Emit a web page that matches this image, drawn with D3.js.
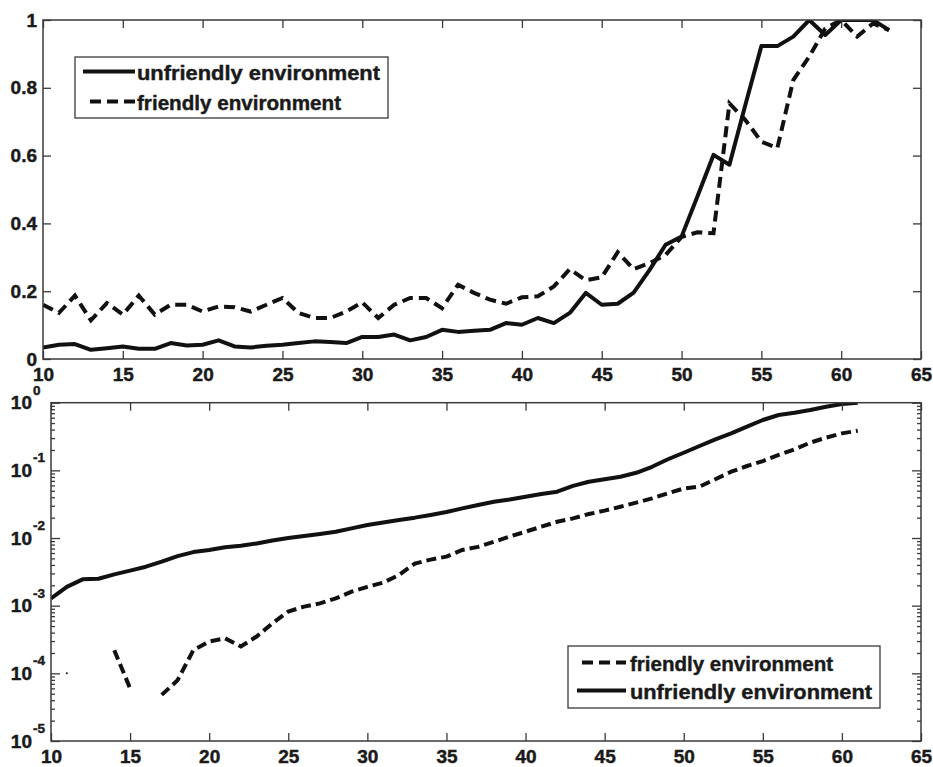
<!DOCTYPE html>
<html><head><meta charset="utf-8">
<script src="https://cdn.jsdelivr.net/npm/d3@7"></script>
<style>
html,body{margin:0;padding:0;background:#fff;}
svg{display:block;}
text{font-family:"Liberation Sans",Arial,Helvetica,sans-serif;font-weight:bold;fill:#1a1a1a;}
</style></head><body>
<svg id="chart" width="933" height="767"></svg>
<script>
// ---------- data ----------
const xTickValues = [10,15,20,25,30,35,40,45,50,55,60,65];
const topYTicks = [0,0.2,0.4,0.6,0.8,1];
const topYTickLabels = ["0","0.2","0.4","0.6","0.8","1"];
const logYTicks = [1,1e-1,1e-2,1e-3,1e-4,1e-5];
const logYExponents = ["0","-1","-2","-3","-4","-5"];
const seriesNames = ["unfriendly environment","friendly environment"];

const topX = [10,11,12,13,14,15,16,17,18,19,20,21,22,23,24,25,26,27,28,29,30,31,32,33,34,35,36,37,38,39,40,41,42,43,44,45,46,47,48,49,50,51,52,53,54,55,56,57,58,59,60,61,62,63];
const topUnfriendly = [0.034,0.042,0.044,0.027,0.032,0.037,0.030,0.030,0.047,0.040,
  0.042,0.055,0.037,0.034,0.039,0.042,0.047,0.052,0.050,0.047,
  0.065,0.065,0.072,0.055,0.065,0.086,0.080,0.083,0.086,0.106,
  0.101,0.121,0.106,0.136,0.195,0.160,0.163,0.196,0.263,0.337,
  0.361,0.480,0.602,0.573,0.750,0.923,0.923,0.951,1.000,0.956,
  1.000,1.000,1.000,0.970];
const topFriendly = [0.160,0.136,0.187,0.114,0.165,0.131,0.187,0.131,0.160,0.160,
  0.140,0.155,0.153,0.140,0.160,0.180,0.136,0.121,0.121,0.140,
  0.167,0.121,0.160,0.180,0.180,0.150,0.219,0.195,0.175,0.163,
  0.182,0.185,0.214,0.265,0.232,0.241,0.315,0.265,0.283,0.307,
  0.360,0.374,0.371,0.754,0.705,0.641,0.622,0.823,0.892,0.975,
  1.000,0.951,0.990,0.970];

const bottomX = [10,11,12,13,14,15,16,17,18,19,20,21,22,23,24,25,26,27,28,29,30,31,32,33,34,35,36,37,38,39,40,41,42,43,44,45,46,47,48,49,50,51,52,53,54,55,56,57,58,59,60,61];
const bottomUnfriendly = [1.28e-3,1.9e-3,2.45e-3,2.5e-3,2.9e-3,3.3e-3,3.77e-3,4.47e-3,5.4e-3,6.2e-3,
  6.65e-3,7.3e-3,7.7e-3,8.3e-3,9.2e-3,1.0e-2,1.07e-2,1.15e-2,1.24e-2,1.39e-2,
  1.56e-2,1.7e-2,1.85e-2,2.0e-2,2.19e-2,2.42e-2,2.74e-2,3.08e-2,3.44e-2,3.7e-2,
  4.08e-2,4.47e-2,4.84e-2,5.9e-2,6.8e-2,7.4e-2,8.05e-2,9.2e-2,0.113,0.146,
  0.182,0.229,0.287,0.352,0.442,0.555,0.658,0.711,0.78,0.873,
  0.955,1.0];
const bottomFriendly = [null,1e-4,null,null,2.2e-4,6.0e-5,null,4.8e-5,7.9e-5,2.2e-4,
  2.95e-4,3.3e-4,2.5e-4,3.5e-4,5.5e-4,8.2e-4,9.7e-4,1.08e-3,1.28e-3,1.61e-3,
  1.9e-3,2.19e-3,2.84e-3,4.2e-3,4.8e-3,5.3e-3,6.65e-3,7.4e-3,8.8e-3,1.05e-2,
  1.24e-2,1.47e-2,1.74e-2,1.95e-2,2.26e-2,2.54e-2,2.9e-2,3.33e-2,3.86e-2,4.57e-2,
  5.4e-2,5.74e-2,7.4e-2,9.55e-2,0.116,0.137,0.169,0.204,0.257,0.304,
  0.352,0.385];

// ---------- drawing ----------
const svg = d3.select("#chart");
svg.append("rect").attr("width",933).attr("height",767).attr("fill","#fff");
const axisColor = "#3a3a3a";
const lineColor = "#111";
const textColor = "#1a1a1a";
const tickFont = 19;

function heavy(sel){
  sel.attr("font-weight","bold").attr("fill",textColor)
    .attr("stroke",textColor).attr("stroke-width",0.45).attr("paint-order","stroke");
}
function styleAxis(g){
  g.select(".domain").remove();
  g.selectAll(".tick line").attr("stroke",axisColor).attr("stroke-width",1.3);
  g.selectAll("text").attr("font-size",tickFont)
    .attr("font-family",'"Liberation Sans",Arial,sans-serif').call(heavy);
}

// ===== Top panel =====
const T = {left:43, right:921, top:20, bottom:359};
const xTop = d3.scaleLinear().domain([10,65]).range([T.left,T.right]);
const yTop = d3.scaleLinear().domain([0,1]).range([T.bottom,T.top]);

svg.append("clipPath").attr("id","clipTop").append("rect")
  .attr("x",T.left).attr("y",T.top).attr("width",T.right-T.left).attr("height",T.bottom-T.top);

const topLine = d3.line().x((d,i)=>xTop(topX[i])).y(d=>yTop(d));
const gTop = svg.append("g").attr("clip-path","url(#clipTop)");
gTop.append("path").attr("d",topLine(topFriendly)).attr("fill","none")
  .attr("stroke",lineColor).attr("stroke-width",4).attr("stroke-dasharray","11,6");
gTop.append("path").attr("d",topLine(topUnfriendly)).attr("fill","none")
  .attr("stroke",lineColor).attr("stroke-width",4).attr("stroke-linejoin","round");

svg.append("g").attr("transform",`translate(0,${T.bottom})`)
  .call(d3.axisBottom(xTop).tickValues(xTickValues).tickSize(-8).tickSizeOuter(0).tickPadding(9)).call(styleAxis);
svg.append("g").attr("transform",`translate(0,${T.top})`)
  .call(d3.axisTop(xTop).tickValues(xTickValues).tickSize(-8).tickSizeOuter(0).tickFormat("")).call(styleAxis);
svg.append("g").attr("transform",`translate(${T.left},0)`)
  .call(d3.axisLeft(yTop).tickValues(topYTicks).tickFormat((d,i)=>topYTickLabels[i]).tickSize(-8).tickSizeOuter(0).tickPadding(6)).call(styleAxis);
svg.append("g").attr("transform",`translate(${T.right},0)`)
  .call(d3.axisRight(yTop).tickValues(topYTicks).tickSize(-8).tickSizeOuter(0).tickFormat("")).call(styleAxis);
svg.append("rect").attr("x",T.left).attr("y",T.top).attr("width",T.right-T.left).attr("height",T.bottom-T.top)
  .attr("fill","none").attr("stroke",axisColor).attr("stroke-width",1.5);

// top legend
const LT = {x:75, y:57, w:313, h:61};
const gLegT = svg.append("g");
gLegT.append("rect").attr("x",LT.x).attr("y",LT.y).attr("width",LT.w).attr("height",LT.h)
  .attr("fill","#fff").attr("stroke",axisColor).attr("stroke-width",1.3);
const legTopItems = [
  {name:seriesNames[0], dash:null, x1:83, x2:135, base:80},
  {name:seriesNames[1], dash:"11,6", x1:90, x2:135, base:110}
];
legTopItems.forEach(it=>{
  gLegT.append("line").attr("x1",it.x1).attr("x2",it.x2).attr("y1",it.base-8.5).attr("y2",it.base-8.5)
    .attr("stroke",lineColor).attr("stroke-width",4).attr("stroke-dasharray",it.dash);
  gLegT.append("text").attr("x",137).attr("y",it.base).attr("font-size",21)
    .attr("textLength",it.name===seriesNames[0]?243:204).attr("lengthAdjust","spacingAndGlyphs")
    .call(heavy).text(it.name);
});

// ===== Bottom panel =====
const B = {left:51, right:921, top:402.7, bottom:741};
const xBot = d3.scaleLinear().domain([10,65]).range([B.left,B.right]);
const yBot = d3.scaleLog().domain([1e-5,1]).range([B.bottom,B.top]);

svg.append("clipPath").attr("id","clipBot").append("rect")
  .attr("x",B.left).attr("y",B.top).attr("width",B.right-B.left).attr("height",B.bottom-B.top);

const botLine = d3.line().defined(d=>d!==null).x((d,i)=>xBot(bottomX[i])).y(d=>yBot(d));
const gBot = svg.append("g").attr("clip-path","url(#clipBot)");
gBot.append("path").attr("d",botLine(bottomFriendly)).attr("fill","none")
  .attr("stroke",lineColor).attr("stroke-width",4).attr("stroke-dasharray","10,5");
// isolated point(s) of the friendly series
bottomFriendly.forEach((v,i)=>{
  const prev = i>0?bottomFriendly[i-1]:null, next = i<bottomFriendly.length-1?bottomFriendly[i+1]:null;
  if(v!==null && prev===null && next===null){
    gBot.append("circle").attr("cx",xBot(bottomX[i])).attr("cy",yBot(v)).attr("r",1).attr("fill",lineColor);
  }
});
gBot.append("path").attr("d",botLine(bottomUnfriendly)).attr("fill","none")
  .attr("stroke",lineColor).attr("stroke-width",4).attr("stroke-linejoin","round");

svg.append("g").attr("transform",`translate(0,${B.bottom})`)
  .call(d3.axisBottom(xBot).tickValues(xTickValues).tickSize(-8).tickSizeOuter(0).tickPadding(8.5)).call(styleAxis);
svg.append("g").attr("transform",`translate(0,${B.top})`)
  .call(d3.axisTop(xBot).tickValues(xTickValues).tickSize(-8).tickSizeOuter(0).tickFormat("")).call(styleAxis);

const minorTicks = yBot.ticks().filter(v=>Math.abs(Math.log10(v)-Math.round(Math.log10(v)))>1e-6);
[[d3.axisLeft,B.left],[d3.axisRight,B.right]].forEach(([ax,xp])=>{
  svg.append("g").attr("transform",`translate(${xp},0)`)
    .call(ax(yBot).tickValues(logYTicks).tickSize(-9).tickSizeOuter(0).tickFormat("")).call(styleAxis);
  svg.append("g").attr("transform",`translate(${xp},0)`)
    .call(ax(yBot).tickValues(minorTicks).tickSize(-4).tickSizeOuter(0).tickFormat("")).call(styleAxis);
});
// log tick labels 10^k
const gLogLab = svg.append("g");
logYTicks.forEach((v,i)=>{
  const yy = yBot(v);
  gLogLab.append("text").attr("x",32).attr("y",yy).attr("dy","0.35em").attr("text-anchor","end")
    .attr("font-size",tickFont).call(heavy).text("10");
  gLogLab.append("text").attr("x",33).attr("y",yy-8).attr("text-anchor","start")
    .attr("font-size",13.5).call(heavy).text(logYExponents[i]);
});
svg.append("rect").attr("x",B.left).attr("y",B.top).attr("width",B.right-B.left).attr("height",B.bottom-B.top)
  .attr("fill","none").attr("stroke",axisColor).attr("stroke-width",1.5);

// bottom legend
const LB = {x:568, y:646, w:312, h:62};
const gLegB = svg.append("g");
gLegB.append("rect").attr("x",LB.x).attr("y",LB.y).attr("width",LB.w).attr("height",LB.h)
  .attr("fill","#fff").attr("stroke",axisColor).attr("stroke-width",1.3);
const legBotItems = [
  {name:seriesNames[1], dash:"11,6", x1:582, x2:626, base:671},
  {name:seriesNames[0], dash:null, x1:577, x2:626, base:699}
];
legBotItems.forEach(it=>{
  gLegB.append("line").attr("x1",it.x1).attr("x2",it.x2).attr("y1",it.base-8.5).attr("y2",it.base-8.5)
    .attr("stroke",lineColor).attr("stroke-width",4).attr("stroke-dasharray",it.dash);
  gLegB.append("text").attr("x",630).attr("y",it.base).attr("font-size",21)
    .attr("textLength",it.name===seriesNames[0]?242:203).attr("lengthAdjust","spacingAndGlyphs")
    .call(heavy).text(it.name);
});
</script>
</body></html>
